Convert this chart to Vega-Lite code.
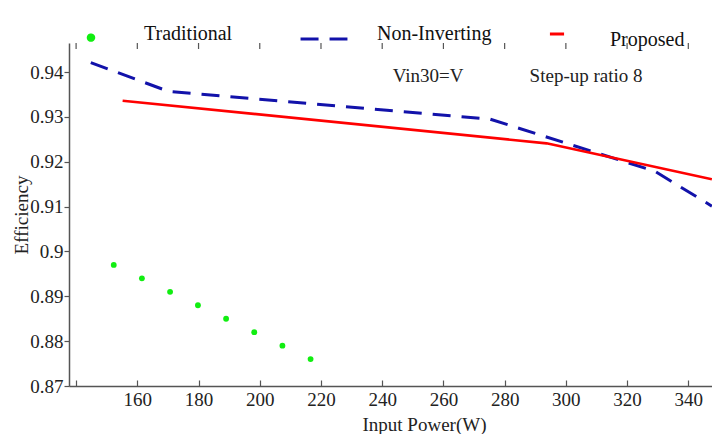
{
  "$schema": "https://vega.github.io/schema/vega-lite/v6.json",
  "width": 643,
  "height": 343,
  "autosize": {"type": "none"},
  "padding": {"left": 69, "top": 43, "right": 0, "bottom": 48},
  "background": "white",
  "config": {
    "view": {"stroke": null},
    "font": "Liberation Serif",
    "axis": {
      "grid": false,
      "domainColor": "#555555",
      "tickColor": "#555555",
      "labelColor": "#222222",
      "titleColor": "#222222",
      "labelFont": "Liberation Serif",
      "titleFont": "Liberation Serif",
      "labelFontSize": 19,
      "titleFontSize": 19,
      "titleFontWeight": "normal",
      "domainWidth": 1.5,
      "tickWidth": 1.2
    }
  },
  "datasets": {
    "curves": [
      {"series": "Traditional", "power": 152.3, "eff": 0.897},
      {"series": "Traditional", "power": 161.5, "eff": 0.894},
      {"series": "Traditional", "power": 170.7, "eff": 0.891},
      {"series": "Traditional", "power": 179.8, "eff": 0.888},
      {"series": "Traditional", "power": 189.0, "eff": 0.885},
      {"series": "Traditional", "power": 198.2, "eff": 0.882},
      {"series": "Traditional", "power": 207.4, "eff": 0.879},
      {"series": "Traditional", "power": 216.6, "eff": 0.876},
      {"series": "Non-Inverting", "power": 144.8, "eff": 0.9421},
      {"series": "Non-Inverting", "power": 170.1, "eff": 0.9357},
      {"series": "Non-Inverting", "power": 275.2, "eff": 0.9295},
      {"series": "Non-Inverting", "power": 329.0, "eff": 0.9179},
      {"series": "Non-Inverting", "power": 347.7, "eff": 0.9101},
      {"series": "Proposed", "power": 155.2, "eff": 0.9336},
      {"series": "Proposed", "power": 293.7, "eff": 0.9241},
      {"series": "Proposed", "power": 347.7, "eff": 0.9161}
    ],
    "notes": [
      {"label": "Vin30=V", "power": 255.0, "eff": 0.9391},
      {"label": "Step-up ratio 8", "power": 306.6, "eff": 0.9391}
    ],
    "topTicks": [
      {"power": 140}, {"power": 160}, {"power": 180}, {"power": 200},
      {"power": 220}, {"power": 240}, {"power": 260}, {"power": 280},
      {"power": 300}, {"power": 320}, {"power": 340}
    ]
  },
  "layer": [
    {
      "data": {"name": "curves"},
      "encoding": {
        "x": {
          "field": "power", "type": "quantitative",
          "scale": {"domain": [137.68, 347.74], "nice": false, "zero": false},
          "axis": {
            "orient": "bottom",
            "values": [140, 160, 180, 200, 220, 240, 260, 280, 300, 320, 340],
            "labelExpr": "datum.value == 140 ? '' : datum.label",
            "tickSize": -6,
            "labelPadding": 10,
            "title": "Input Power(W)",
            "titleX": 355,
            "titleY": 44,
            "titleBaseline": "alphabetic"
          }
        },
        "y": {
          "field": "eff", "type": "quantitative",
          "scale": {"domain": [0.87, 0.94647], "nice": false, "zero": false},
          "axis": {
            "values": [0.87, 0.88, 0.89, 0.9, 0.91, 0.92, 0.93, 0.94],
            "format": "~g",
            "tickSize": 5,
            "labelPadding": 1,
            "labelBaseline": "middle",
            "title": "Efficiency",
            "titleX": -42,
            "titleBaseline": "alphabetic"
          }
        },
        "color": {
          "field": "series", "type": "nominal",
          "scale": {
            "domain": ["Traditional", "Non-Inverting", "Proposed"],
            "range": ["#11ee11", "#1212aa", "#ff0000"]
          },
          "legend": {
            "orient": "none",
            "legendX": -3,
            "legendY": -34,
            "zindex": -1,
            "direction": "horizontal",
            "title": null,
            "gridAlign": "all",
            "columnPadding": 35,
            "symbolSize": 900,
            "labelOffset": 28,
            "labelFont": "Liberation Serif",
            "labelFontSize": 20,
            "labelColor": "#111111",
            "encode": {
              "symbols": {
                "update": {
                  "shape": {"signal": "datum.value === 'Traditional' ? 'circle' : 'stroke'"},
                  "size": {"signal": "datum.value === 'Traditional' ? 30 : datum.value === 'Proposed' ? 200 : 2200"},
                  "strokeDash": {"signal": "datum.value === 'Non-Inverting' ? [18, 11] : [1, 0]"},
                  "strokeWidth": {"value": 3},
                  "fill": {"signal": "datum.value === 'Traditional' ? '#11ee11' : 'transparent'"},
                  "stroke": {"signal": "datum.value === 'Traditional' ? 'transparent' : datum.value === 'Proposed' ? '#ff0000' : '#1212aa'"},
                  "opacity": {"value": 1}
                }
              },
              "labels": {
                "update": {
                  "dy": {"signal": "datum.value === 'Non-Inverting' ? -5 : datum.value === 'Proposed' ? 6 : -4"}
                }
              }
            }
          }
        }
      },
      "layer": [
        {
          "transform": [{"filter": "datum.series === 'Traditional'"}],
          "mark": {"type": "point", "filled": true, "size": 34, "opacity": 1, "clip": true}
        },
        {
          "transform": [{"filter": "datum.series === 'Non-Inverting'"}],
          "mark": {"type": "line", "strokeWidth": 3, "strokeDash": [18, 11], "clip": true}
        },
        {
          "transform": [{"filter": "datum.series === 'Proposed'"}],
          "mark": {"type": "line", "strokeWidth": 2.6, "clip": true}
        }
      ]
    },
    {
      "data": {"name": "notes"},
      "mark": {"type": "text", "font": "Liberation Serif", "fontSize": 19, "color": "#222222", "align": "center", "baseline": "middle"},
      "encoding": {
        "x": {"field": "power", "type": "quantitative"},
        "y": {"field": "eff", "type": "quantitative"},
        "text": {"field": "label"}
      }
    },
    {
      "mark": {"type": "rule", "color": "#555555", "strokeWidth": 1.5},
      "encoding": {"y": {"datum": 0.94647, "type": "quantitative"}}
    },
    {
      "data": {"name": "topTicks"},
      "mark": {"type": "rule", "color": "#555555", "strokeWidth": 1.2},
      "encoding": {
        "x": {"field": "power", "type": "quantitative"},
        "y": {"datum": 0.94647, "type": "quantitative"},
        "y2": {"datum": 0.94513}
      }
    }
  ]
}
